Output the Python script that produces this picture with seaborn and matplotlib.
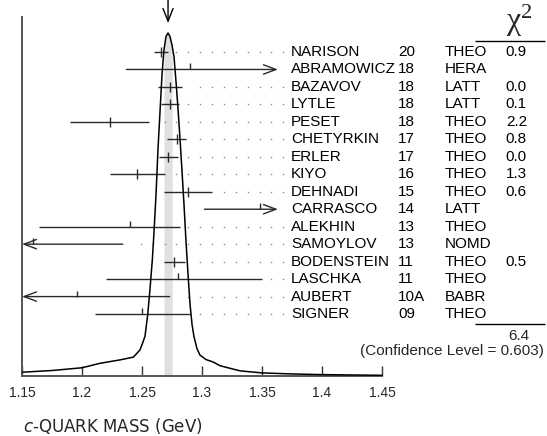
import numpy as np
import pandas as pd
import matplotlib
matplotlib.use("Agg")
import matplotlib.pyplot as plt
import seaborn as sns

# ---------------- data ----------------
names = ["NARISON", "ABRAMOWICZ", "BAZAVOV", "LYTLE", "PESET", "CHETYRKIN", "ERLER", "KIYO",
         "DEHNADI", "CARRASCO", "ALEKHIN", "SAMOYLOV", "BODENSTEIN", "LASCHKA", "AUBERT", "SIGNER"]
years = ["20", "18", "18", "18", "18", "17", "17", "16", "15", "14", "13", "13", "11", "11", "10A", "09"]
techs = ["THEO", "HERA", "LATT", "LATT", "THEO", "THEO", "THEO", "THEO", "THEO", "LATT", "THEO",
         "NOMD", "THEO", "THEO", "BABR", "THEO"]
values = [1.266, 1.290, 1.273, 1.2733, 1.223, 1.279, 1.272, 1.246, 1.288, 1.348, 1.240, 1.159,
          1.277, 1.280, 1.196, 1.250]
err_lo = [0.006, 0.053, 0.010, 0.0076, 0.033, 0.008, 0.008, 0.023, 0.020, 0.046, 0.076, 0.075,
          0.009, 0.060, 0.077, 0.039]
err_hi = [0.006, 0.077, 0.010, 0.0076, 0.033, 0.008, 0.008, 0.023, 0.020, 0.046, 0.042, 0.075,
          0.009, 0.070, 0.077, 0.040]
chi2 = ["0.9", "", "0.0", "0.1", "2.2", "0.8", "0.0", "1.3", "0.6", "", "", "", "0.5", "", "", ""]
chi2_total = "6.4"
conf_level = "(Confidence Level = 0.603)"

avg_value = 1.2717
avg_err = 0.0034

# ideogram curve (mass in GeV, relative height)
ideo_x = [1.1500, 1.1750, 1.2000, 1.2150, 1.2317, 1.2428, 1.2483, 1.2504, 1.2525, 1.2548,
          1.2567, 1.2586, 1.2600, 1.2617, 1.2633, 1.2650, 1.2667, 1.2683, 1.2700, 1.2717,
          1.2733, 1.2750, 1.2767, 1.2783, 1.2800, 1.2817, 1.2833, 1.2850, 1.2867, 1.2883,
          1.2900, 1.2917, 1.2933, 1.2958, 1.2983, 1.3033, 1.3092, 1.3150, 1.3317, 1.3500,
          1.3750, 1.4000, 1.4250, 1.4500]
ideo_h = [0.011, 0.016, 0.024, 0.037, 0.047, 0.055, 0.076, 0.095, 0.116, 0.180,
          0.255, 0.338, 0.420, 0.530, 0.660, 0.770, 0.880, 0.950, 0.990, 1.000,
          0.990, 0.965, 0.930, 0.860, 0.780, 0.690, 0.600, 0.500, 0.390, 0.300,
          0.210, 0.150, 0.115, 0.080, 0.061, 0.048, 0.041, 0.030, 0.015, 0.009,
          0.006, 0.004, 0.003, 0.002]

xticks = [1.15, 1.2, 1.25, 1.3, 1.35, 1.4, 1.45]
xtick_labels = ["1.15", "1.2", "1.25", "1.3", "1.35", "1.4", "1.45"]

# ---------------- style ----------------
sns.set_theme(style="white")
plt.rcParams["font.family"] = ["Liberation Sans", "DejaVu Sans"]

W, H = 547, 436
fig = plt.figure(figsize=(W / 100, H / 100), dpi=100)
base_px = 376
ax = fig.add_axes([22 / W, (H - base_px) / H, (W - 22) / W, base_px / H])
x_left, x_right = 1.15, 1.15 + (W - 22) / 1200
ax.set_xlim(x_left, x_right)
ax.set_ylim(0, base_px)

peak_px = 343
clip_lo, clip_hi = 1.15, 1.3633
row_top = 376 - 52
row_step = 17.47
rows_y = [row_top - row_step * i for i in range(len(names))]
fs = 11

# band of the average
xb = np.linspace(avg_value - avg_err, avg_value + avg_err, 30)
yb = np.interp(xb, ideo_x, ideo_h) * peak_px
ax.fill_between(xb, 0, yb, color="#e0e0e0", lw=0, zorder=1)

# dot leaders
dot_grid = np.linspace(1.15, 1.3678, 23)
bar_col = "#2a2a2a"
for i, y in enumerate(rows_y):
    v, lo, hi = values[i], values[i] - err_lo[i], values[i] + err_hi[i]
    in_fit = chi2[i] != ""
    if hi <= clip_hi:
        dx = dot_grid[dot_grid > hi + 0.0065]
        ax.plot(dx, [y] * len(dx), ls="none", marker="s", ms=1.0, color="#8a8a8a",
                mew=0, zorder=2)
    lo_c, hi_c = max(lo, clip_lo), min(hi, clip_hi)
    if lo < clip_lo:
        ax.annotate("", xy=(lo_c, y), xytext=(hi_c, y),
                    arrowprops=dict(arrowstyle="->,head_length=0.75,head_width=0.28",
                                    lw=1.0, color=bar_col, shrinkA=0, shrinkB=0,
                                    mutation_scale=12), zorder=3)
    elif hi > clip_hi:
        ax.annotate("", xy=(hi_c, y), xytext=(lo_c, y),
                    arrowprops=dict(arrowstyle="->,head_length=0.75,head_width=0.28",
                                    lw=1.0, color=bar_col, shrinkA=0, shrinkB=0,
                                    mutation_scale=12), zorder=3)
    else:
        ax.hlines(y, lo_c, hi_c, color=bar_col, lw=1.0, zorder=3)
    if in_fit:
        ax.vlines(v, y - 5, y + 5, color=bar_col, lw=1.0, zorder=3)
    else:
        ax.vlines(v, y, y + 6, color=bar_col, lw=1.0, zorder=3)

    ax.text(1.3742, y, names[i], fontsize=fs, va="center", ha="left", color="black")
    ax.text(1.4633, y, years[i], fontsize=fs, va="center", ha="left", color="black")
    ax.text(1.5025, y, techs[i], fontsize=fs, va="center", ha="left", color="black")
    if chi2[i]:
        ax.text(1.5708, y, chi2[i], fontsize=fs, va="center", ha="right", color="black")

# ideogram curve
df = pd.DataFrame({"mass": ideo_x, "h": np.array(ideo_h) * peak_px})
sns.lineplot(data=df, x="mass", y="h", ax=ax, color="black", lw=1.1, sort=False,
             estimator=None, zorder=4)

# arrow marking the average
ax.annotate("", xy=(avg_value, base_px - 23), xytext=(avg_value, base_px + 1),
            arrowprops=dict(arrowstyle="->,head_length=0.7,head_width=0.28", lw=1.0,
                            color="black", shrinkA=0, shrinkB=0, mutation_scale=13),
            annotation_clip=False)

# chi2 column header, totals
ax.text(1.5642, base_px - 21, r"$\mathregular{\chi^2}$", fontsize=23, ha="center",
        va="center", family="Liberation Serif")
ax.hlines(base_px - 41, 1.5275, 1.5858, color="black", lw=1.0)
ax.hlines(base_px - 324, 1.5275, 1.5858, color="black", lw=1.0)
ax.text(1.5725, base_px - 336, chi2_total, fontsize=fs, ha="right", va="center")
ax.text(1.5850, base_px - 351, conf_level, fontsize=fs, ha="right", va="center")

# axes
sns.despine(ax=ax, top=True, right=True)
ax.spines["bottom"].set_bounds(1.15, 1.45)
ax.spines["left"].set_bounds(0, base_px - 17)
for s in ("bottom", "left"):
    ax.spines[s].set_color("#555555")
    ax.spines[s].set_linewidth(1.4)
ax.set_xticks(xticks)
ax.set_xticklabels(xtick_labels)
ax.set_yticks([])
ax.tick_params(axis="x", direction="in", length=7.5, width=1.0, color="#333333",
               pad=7, labelsize=10, bottom=True)
ax.set_xlabel("")
ax.set_ylabel("")
ax.grid(False)

fig.text(23 / W, 1 - 426 / H, r"$c$-QUARK MASS (GeV)", fontsize=12, ha="left", va="center",
         family="DejaVu Sans")

fig.savefig("out.png", dpi=100)
